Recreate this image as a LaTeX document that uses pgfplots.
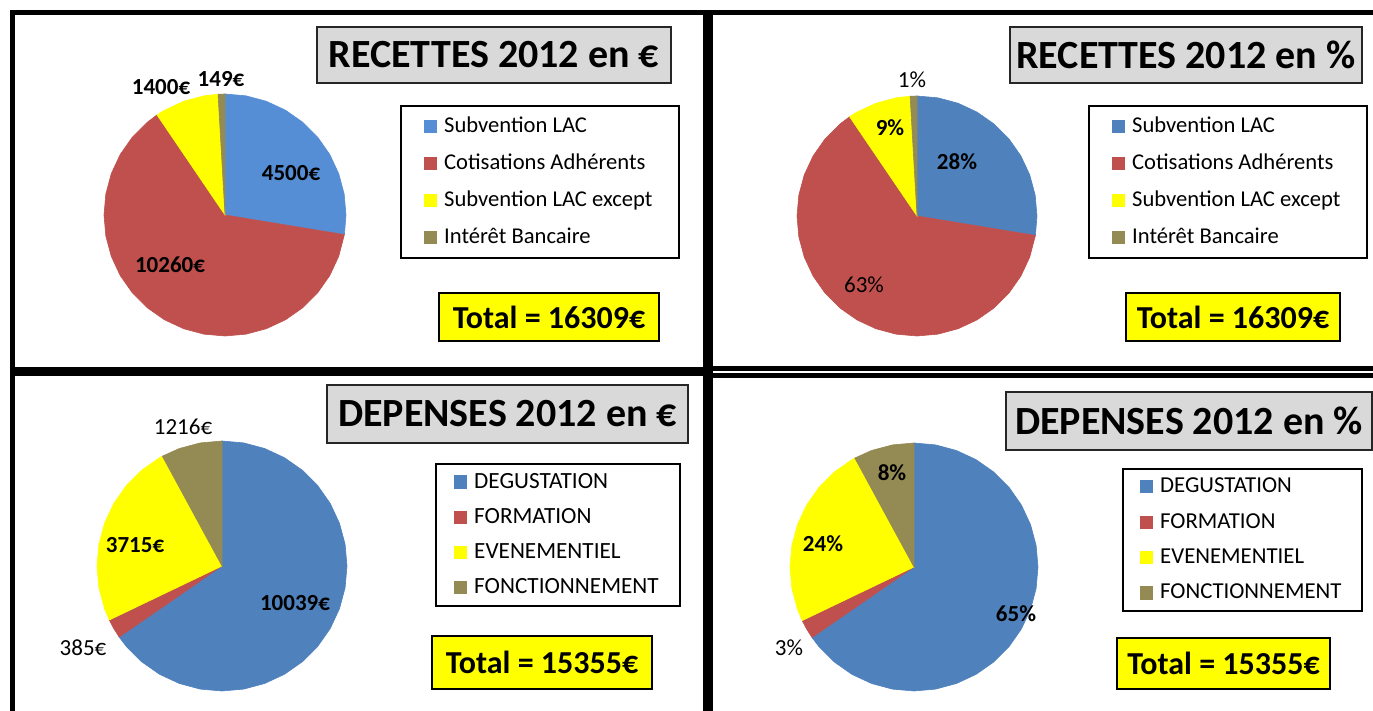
\documentclass[border=0pt]{standalone}
\usepackage{pgfplots}
\pgfplotsset{compat=1.18}
\usepackage{fontspec}
\setmainfont{Carlito}
\definecolor{cblueL}{HTML}{558ED5}
\definecolor{cblue}{HTML}{4F81BD}
\definecolor{cred}{HTML}{C0504D}
\definecolor{cyel}{HTML}{FFFF00}
\definecolor{colive}{HTML}{948A54}
\definecolor{ctitle}{HTML}{D9D9D9}
\pgfplotsset{
  pie/.style={hide axis, scale only axis, xmin=-1, xmax=1, ymin=-1, ymax=1,
    anchor=center, clip=false, data cs=polar,
    legend cell align=left,
    legend image code/.code={\path[##1, draw=none] (0pt,-3.3pt) rectangle (6.6pt,3.3pt);},
    legend style={draw=black, line width=1pt, fill=white, anchor=north west,
      font=\fontsize{11.3pt}{13pt}\selectfont, row sep=6.2pt, column sep=2pt,
      inner xsep=11.5pt, inner ysep=4pt,
      nodes={inner sep=1.5pt, line width=0.4pt}}},
  slice/.style={fill=#1, draw=#1, line width=0.3pt}
}
\begin{document}
\begin{tikzpicture}
\path[use as bounding box] (0pt,0pt) rectangle (686.5pt,-355.5pt);
\clip (0pt,0pt) rectangle (686.5pt,-355.5pt);

% ---------- RECETTES en euro (top left) ----------
\begin{axis}[pie, at={(112.5pt,-107.5pt)}, width=121pt, height=121pt,
  legend style={at={(1.2231,0.9545)}}]
\addplot[slice=cblueL] coordinates {(0,0) (90,1) (80,1) (70,1) (60,1) (50,1) (40,1) (30,1) (20,1) (10,1) (0,1) (-9.331,1)} -- cycle;
\addlegendentry{Subvention LAC}
\addplot[slice=cred] coordinates {(0,0) (-9.331,1) (-20,1) (-30,1) (-40,1) (-50,1) (-60,1) (-70,1) (-80,1) (-90,1) (-100,1) (-110,1) (-120,1) (-130,1) (-140,1) (-150,1) (-160,1) (-170,1) (-180,1) (-190,1) (-200,1) (-210,1) (-220,1) (-230,1) (-235.807,1)} -- cycle;
\addlegendentry{Cotisations Adhérents}
\addplot[slice=cyel] coordinates {(0,0) (-235.807,1) (-240,1) (-250,1) (-260,1) (-266.710,1)} -- cycle;
\addlegendentry{Subvention LAC except}
\addplot[slice=colive] coordinates {(0,0) (-266.710,1) (-270,1)} -- cycle;
\addlegendentry{Intérêt Bancaire}
\end{axis}

% ---------- RECETTES en % (top right) ----------
\begin{axis}[pie, at={(458.5pt,-108pt)}, width=120pt, height=120pt,
  legend style={at={(1.2125,0.9625)}}]
\addplot[slice=cblue] coordinates {(0,0) (90,1) (80,1) (70,1) (60,1) (50,1) (40,1) (30,1) (20,1) (10,1) (0,1) (-9.331,1)} -- cycle;
\addlegendentry{Subvention LAC}
\addplot[slice=cred] coordinates {(0,0) (-9.331,1) (-20,1) (-30,1) (-40,1) (-50,1) (-60,1) (-70,1) (-80,1) (-90,1) (-100,1) (-110,1) (-120,1) (-130,1) (-140,1) (-150,1) (-160,1) (-170,1) (-180,1) (-190,1) (-200,1) (-210,1) (-220,1) (-230,1) (-235.807,1)} -- cycle;
\addlegendentry{Cotisations Adhérents}
\addplot[slice=cyel] coordinates {(0,0) (-235.807,1) (-240,1) (-250,1) (-260,1) (-266.710,1)} -- cycle;
\addlegendentry{Subvention LAC except}
\addplot[slice=colive] coordinates {(0,0) (-266.710,1) (-270,1)} -- cycle;
\addlegendentry{Intérêt Bancaire}
\end{axis}

% ---------- DEPENSES en euro (bottom left) ----------
\begin{axis}[pie, at={(111pt,-283pt)}, width=125pt, height=125pt,
  legend style={at={(1.352,0.912)}, inner xsep=9pt, inner ysep=3pt, row sep=5.6pt,
    font=\fontsize{11.6pt}{13pt}\selectfont}]
\addplot[slice=cblue] coordinates {(0,0) (90,1) (80,1) (70,1) (60,1) (50,1) (40,1) (30,1) (20,1) (10,1) (0,1) (-10,1) (-20,1) (-30,1) (-40,1) (-50,1) (-60,1) (-70,1) (-80,1) (-90,1) (-100,1) (-110,1) (-120,1) (-130,1) (-140,1) (-145.365,1)} -- cycle;
\addlegendentry{DEGUSTATION}
\addplot[slice=cred] coordinates {(0,0) (-145.365,1) (-150,1) (-154.391,1)} -- cycle;
\addlegendentry{FORMATION}
\addplot[slice=cyel] coordinates {(0,0) (-154.391,1) (-160,1) (-170,1) (-180,1) (-190,1) (-200,1) (-210,1) (-220,1) (-230,1) (-240,1) (-241.489,1)} -- cycle;
\addlegendentry{EVENEMENTIEL}
\addplot[slice=colive] coordinates {(0,0) (-241.489,1) (-250,1) (-260,1) (-270,1)} -- cycle;
\addlegendentry{FONCTIONNEMENT}
\end{axis}

% ---------- DEPENSES en % (bottom right) ----------
\begin{axis}[pie, at={(457pt,-283.5pt)}, width=124pt, height=124pt,
  legend style={at={(1.3387,0.8992)}, inner xsep=8.5pt, inner ysep=3pt, row sep=5.8pt,
    font=\fontsize{11.4pt}{13pt}\selectfont}]
\addplot[slice=cblue] coordinates {(0,0) (90,1) (80,1) (70,1) (60,1) (50,1) (40,1) (30,1) (20,1) (10,1) (0,1) (-10,1) (-20,1) (-30,1) (-40,1) (-50,1) (-60,1) (-70,1) (-80,1) (-90,1) (-100,1) (-110,1) (-120,1) (-130,1) (-140,1) (-145.365,1)} -- cycle;
\addlegendentry{DEGUSTATION}
\addplot[slice=cred] coordinates {(0,0) (-145.365,1) (-150,1) (-154.391,1)} -- cycle;
\addlegendentry{FORMATION}
\addplot[slice=cyel] coordinates {(0,0) (-154.391,1) (-160,1) (-170,1) (-180,1) (-190,1) (-200,1) (-210,1) (-220,1) (-230,1) (-240,1) (-241.489,1)} -- cycle;
\addlegendentry{EVENEMENTIEL}
\addplot[slice=colive] coordinates {(0,0) (-241.489,1) (-250,1) (-260,1) (-270,1)} -- cycle;
\addlegendentry{FONCTIONNEMENT}
\end{axis}

\begin{scope}[x=0.5pt, y=-0.5pt]
% panel borders
\draw[line width=2.5pt] (12.5,1000) -- (12.5,12.5) -- (1400,12.5);
\draw[line width=2.5pt] (705.5,12.5) -- (705.5,1000);
\draw[line width=2.5pt] (710.5,12.5) -- (710.5,1000);
\draw[line width=2.5pt] (12.5,369.5) -- (705.5,369.5);
\draw[line width=2.5pt] (12.5,373.5) -- (705.5,373.5);
\draw[line width=2.5pt] (710.5,368.5) -- (1400,368.5);
\draw[line width=2.5pt] (710.5,375.5) -- (1400,375.5);

% titles
\tikzset{ttl/.style={draw=black!85, line width=0.75pt, fill=ctitle, inner sep=0pt,
  font=\fontsize{20pt}{23pt}\selectfont\bfseries},
  tot/.style={draw=black, line width=1pt, fill=cyel, inner sep=0pt,
  font=\fontsize{16pt}{18pt}\selectfont\bfseries},
  lab/.style={font=\fontsize{11.5pt}{13pt}\selectfont\bfseries, inner sep=0pt},
  labr/.style={font=\fontsize{11.5pt}{13pt}\selectfont, inner sep=0pt}}
\node[ttl, minimum width=177pt, minimum height=28pt] at (494,55) {RECETTES 2012 en €};
\node[ttl, minimum width=176pt, minimum height=28pt] at (1186,55) {RECETTES 2012 en \%};
\node[ttl, minimum width=180.5pt, minimum height=29pt] at (507.5,414) {DEPENSES 2012 en €};
\node[ttl, minimum width=183pt, minimum height=29pt] at (1189,421) {DEPENSES 2012 en \%};

% totals
\node[tot, minimum width=110pt, minimum height=24pt] at (549,317) {Total = 16309€};
\node[tot, minimum width=107pt, minimum height=24pt] at (1233,317) {Total = 16309€};
\node[tot, minimum width=110pt, minimum height=26.5pt] at (542,662.5) {Total = 15355€};
\node[tot, minimum width=106.5pt, minimum height=25.5pt] at (1223.5,663.5) {Total = 15355€};

% data labels
\node[lab] at (291,173) {4500€};
\node[lab] at (170,265) {10260€};
\node[lab] at (161,87) {1400€};
\node[lab] at (221,79) {149€};
\node[lab] at (957,162) {28\%};
\node[labr] at (864,285) {63\%};
\node[lab] at (890,128) {9\%};
\node[labr] at (912,80) {1\%};
\node[labr] at (183,427) {1216€};
\node[lab] at (135,545) {3715€};
\node[lab] at (295,603) {10039€};
\node[labr] at (83,648) {385€};
\node[lab] at (892,473) {8\%};
\node[lab] at (823,544) {24\%};
\node[lab] at (1016,614) {65\%};
\node[labr] at (789,648) {3\%};
\end{scope}
\end{tikzpicture}
\end{document}
